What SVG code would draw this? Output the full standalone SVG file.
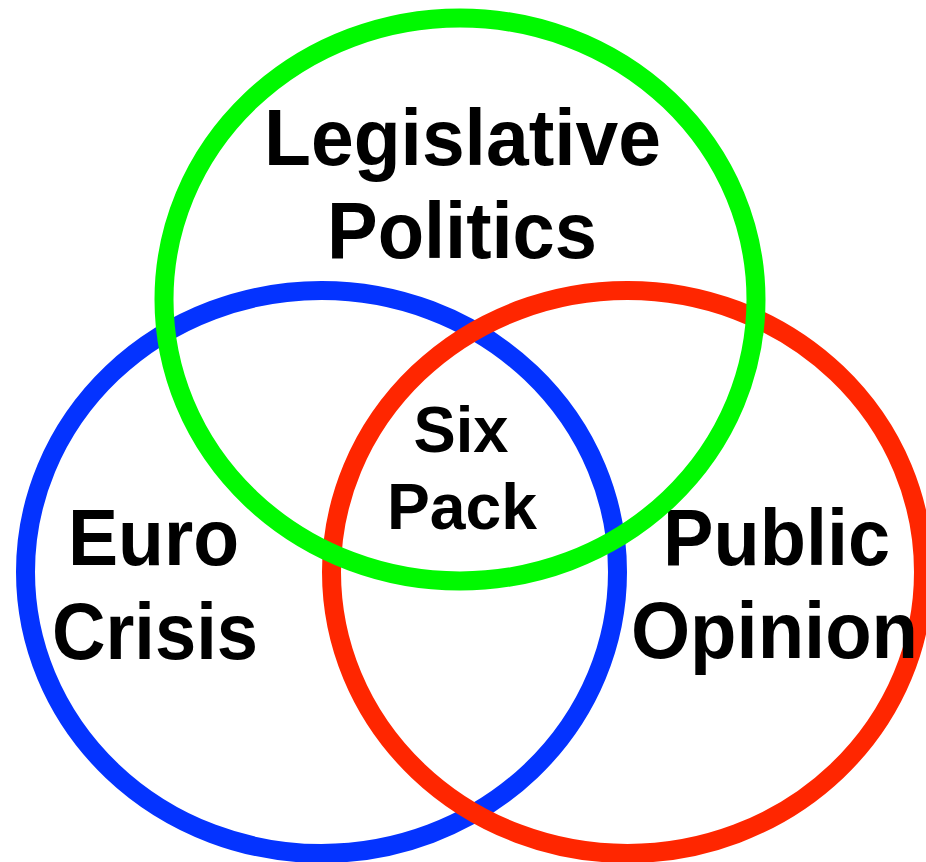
<svg xmlns="http://www.w3.org/2000/svg" width="926" height="862" viewBox="0 0 926 862">
<style>
.ring{fill:none;stroke-width:19}
.lbl{font-family:"Liberation Sans",Arial,Helvetica,sans-serif;font-weight:bold;font-size:80px;fill:#000;text-anchor:middle}
.sm{font-size:64px}
</style>
<rect x="0" y="0" width="926" height="862" fill="#fff"/>
<g id="euro-crisis">
<ellipse class="ring" cx="321.5" cy="572" rx="296" ry="281.5" stroke="#0433FF"/>
<text class="lbl" x="153.5" y="565" textLength="171" lengthAdjust="spacingAndGlyphs">Euro</text>
<text class="lbl" x="155" y="659" textLength="206" lengthAdjust="spacingAndGlyphs">Crisis</text>
</g>
<g id="public-opinion">
<ellipse class="ring" cx="627.5" cy="572" rx="296" ry="281.5" stroke="#FF2600"/>
<text class="lbl" x="776.5" y="565" textLength="227" lengthAdjust="spacingAndGlyphs">Public</text>
<text class="lbl" x="774.5" y="658" textLength="287" lengthAdjust="spacingAndGlyphs">Opinion</text>
</g>
<g id="legislative-politics">
<ellipse class="ring" cx="460" cy="299.5" rx="296" ry="281.5" stroke="#00F900"/>
<text class="lbl" x="462.5" y="165" textLength="397" lengthAdjust="spacingAndGlyphs">Legislative</text>
<text class="lbl" x="462" y="258" textLength="270" lengthAdjust="spacingAndGlyphs">Politics</text>
</g>
<g id="six-pack">
<text class="lbl sm" x="461" y="452" textLength="95" lengthAdjust="spacingAndGlyphs">Six</text>
<text class="lbl sm" x="462" y="529" textLength="150" lengthAdjust="spacingAndGlyphs">Pack</text>
</g>
</svg>
